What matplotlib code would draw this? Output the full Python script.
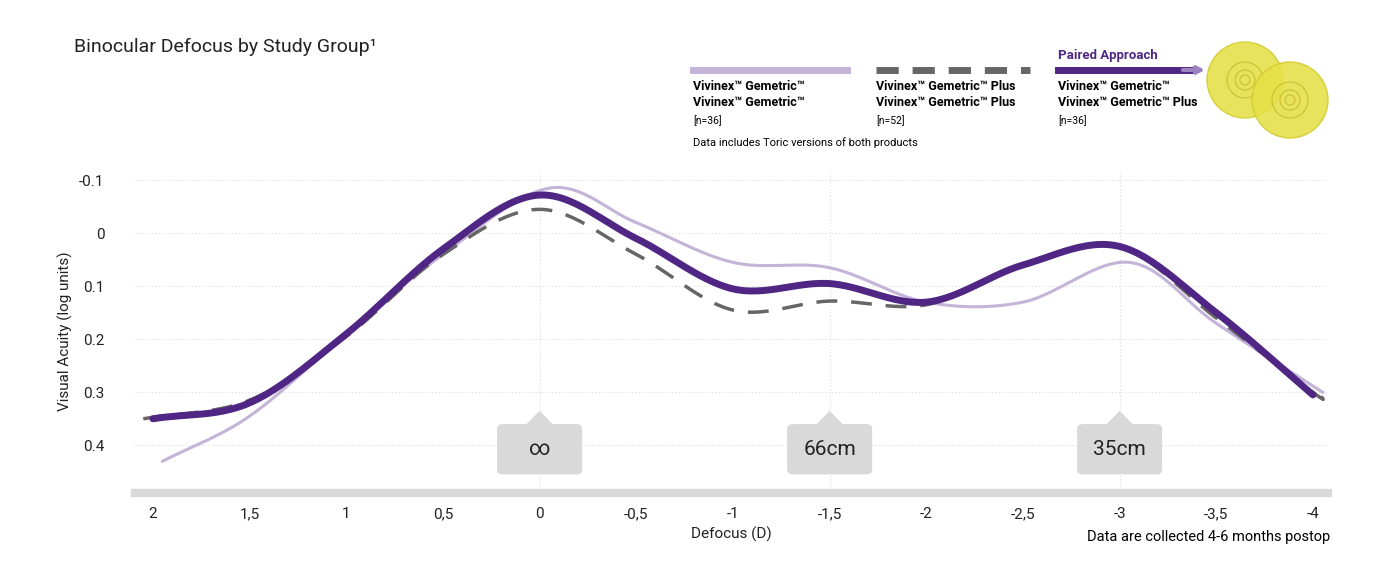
import matplotlib.pyplot as plt
import numpy as np
from matplotlib.patches import FancyBboxPatch, Polygon, Circle

plt.rcParams['font.family'] = ['Roboto', 'DejaVu Sans']

defocus = [2, 1.5, 1, 0.5, 0, -0.5, -1, -1.5, -2, -2.5, -3, -3.5, -4]
light_x = [1.95, 1.5, 1, 0.5, -0.05, -0.5, -1, -1.5, -2, -2.5, -3.05, -3.5, -4.05]
light_y = [0.43, 0.345, 0.19, 0.04, -0.085, -0.02, 0.055, 0.065, 0.13, 0.13, 0.055, 0.17, 0.30]
paired_y = [0.35, 0.32, 0.19, 0.03, -0.072, 0.01, 0.105, 0.095, 0.13, 0.06, 0.025, 0.15, 0.305]
plus_x = [2.05] + defocus[1:] + [-4.05]
plus_y = [0.35, 0.315, 0.195, 0.04, -0.045, 0.04, 0.145, 0.128, 0.135, 0.06, 0.025, 0.16, 0.30, 0.31]
xticks = [2, 1.5, 1, 0.5, 0, -0.5, -1, -1.5, -2, -2.5, -3, -3.5, -4]
xlabels = ['2', '1,5', '1', '0,5', '0', '-0,5', '-1', '-1,5', '-2', '-2,5', '-3', '-3,5', '-4']
yticks = [-0.1, 0, 0.1, 0.2, 0.3, 0.4]
ylabels = ['-0.1', '0', '0.1', '0.2', '0.3', '0.4']
callouts = [(0, '∞'), (-1.5, '66cm'), (-3, '35cm')]


def smooth(x, y, n=30):
    # catmull-rom through the read points
    x = np.asarray(x, float); y = np.asarray(y, float)
    px = np.r_[2 * x[0] - x[1], x, 2 * x[-1] - x[-2]]
    py = np.r_[2 * y[0] - y[1], y, 2 * y[-1] - y[-2]]
    ox, oy = [], []
    t = np.linspace(0, 1, n)
    for i in range(1, len(px) - 2):
        for p, o in ((px, ox), (py, oy)):
            a, b, c, d = p[i - 1], p[i], p[i + 1], p[i + 2]
            o.extend(0.5 * (2 * b + (-a + c) * t + (2 * a - 5 * b + 4 * c - d) * t ** 2
                            + (-a + 3 * b - 3 * c + d) * t ** 3))
    return ox, oy


fig = plt.figure(figsize=(14, 5.86), dpi=100)
ax = fig.add_axes([0.0964, 0.1587, 0.8522, 0.551])
ax.set_xlim(2.093, -4.078)
ax.set_ylim(0.49, -0.119)

for v in yticks:
    ax.axhline(v, color='#dddddd', lw=0.8, ls=(0, (1, 2)), zorder=0)
for xc, _ in callouts:
    ax.axvline(xc, color='#dddddd', lw=0.8, ls=(0, (1, 2)), zorder=0)

ax.plot(*smooth(light_x, light_y), color='#c3b4d8', lw=2.2, zorder=2)
ax.plot(*smooth(plus_x, plus_y), color='#666666', lw=2.5, ls=(0, (6, 4)), zorder=3)
ax.plot(*smooth(defocus, paired_y), color='#4f2683', lw=5, zorder=4, solid_capstyle='round')

for xc, txt in callouts:
    ax.add_patch(FancyBboxPatch((xc - 0.22, 0.36), 0.44, 0.095,
                                boxstyle='round,pad=0,rounding_size=0.03', fc='#d9d9d9', ec='none',
                                zorder=5, mutation_aspect=0.3))
    ax.add_patch(Polygon([[xc - 0.07, 0.361], [xc + 0.07, 0.361], [xc, 0.335]],
                         fc='#d9d9d9', ec='none', zorder=5))
    ax.text(xc, 0.408, txt, ha='center', va='center', fontsize=15, color='#222222', zorder=6)

ax.axhline(0.49, color='#d9d9d9', lw=6, clip_on=False)
for s in ax.spines.values():
    s.set_visible(False)
ax.set_xticks(xticks, xlabels)
ax.set_yticks(yticks, ylabels)
ax.tick_params(length=0, labelsize=11, colors='#222222')
ax.tick_params(axis='x', pad=10)
ax.tick_params(axis='y', pad=22)
ax.set_xlabel('Defocus (D)', fontsize=11, color='#222222')
ax.set_ylabel('Visual Acuity (log units)', fontsize=11, color='#222222')

fig.text(0.053, 0.92, 'Binocular Defocus by Study Group¹', fontsize=14, color='#222222', va='center')
fig.text(0.95, 0.083, 'Data are collected 4-6 months postop', fontsize=10.5, ha='right', va='center')

# legend
lax = fig.add_axes([0, 0, 1, 1], facecolor='none')
lax.set_xlim(0, 1400); lax.set_ylim(586, 0); lax.axis('off')
lax.plot([693, 847], [70, 70], color='#c3b4d8', lw=5)
lax.plot([876, 1030], [70, 70], color='#666666', lw=5, ls=(0, (3.2, 2)))
lax.plot([1058, 1190], [70, 70], color='#4f2683', lw=5)
lax.annotate('', xy=(1208, 70), xytext=(1180, 70),
             arrowprops=dict(arrowstyle='-|>', color='#9b83c0', lw=3))
lax.text(1058, 56, 'Paired Approach', color='#4f2683', fontsize=9.5, weight='bold', va='center')
for x0, l1, l2, n in [(693, 'Vivinex™ Gemetric™', 'Vivinex™ Gemetric™', '[n=36]'),
                      (876, 'Vivinex™ Gemetric™ Plus', 'Vivinex™ Gemetric™ Plus', '[n=52]'),
                      (1058, 'Vivinex™ Gemetric™', 'Vivinex™ Gemetric™ Plus', '[n=36]')]:
    lax.text(x0, 87, l1, fontsize=9, weight='bold', va='center')
    lax.text(x0, 102, l2, fontsize=9, weight='bold', va='center')
    lax.text(x0, 121, n, fontsize=7.5, va='center')
lax.text(693, 143, 'Data includes Toric versions of both products', fontsize=8, va='center')
for cx, cy in [(1245, 80), (1290, 100)]:
    lax.add_patch(Circle((cx, cy), 38, fc='#e6e04a', ec='#d4cc30', alpha=0.9))
    for r in (18, 10, 5):
        lax.add_patch(Circle((cx, cy), r, fc='none', ec='#c9c030', lw=0.8))

fig.savefig('out.png', dpi=100)
